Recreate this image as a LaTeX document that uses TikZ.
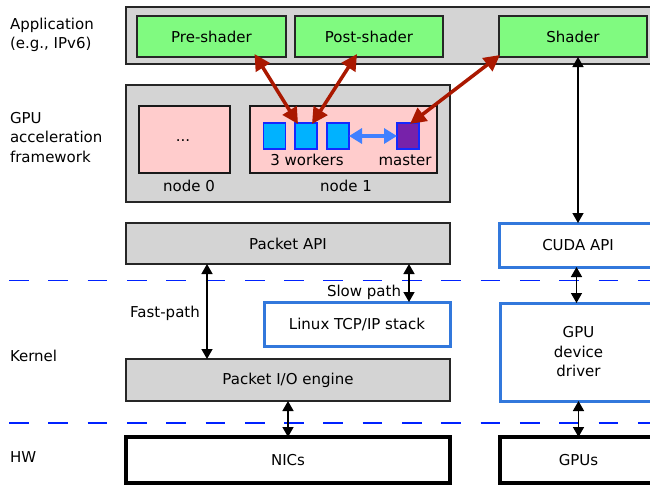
\documentclass[tikz,border=0pt]{standalone}
\usepackage{fontspec}
\setmainfont{DejaVu Sans}
\usetikzlibrary{arrows.meta,calc}
\definecolor{greyfill}{RGB}{212,212,212}
\definecolor{greenfill}{RGB}{128,250,128}
\definecolor{pinkfill}{RGB}{255,204,204}
\definecolor{workerfill}{RGB}{0,178,255}
\definecolor{masterfill}{RGB}{119,34,170}
\definecolor{sqborder}{RGB}{20,40,255}
\definecolor{apiblue}{RGB}{50,120,220}
\definecolor{redarrow}{RGB}{170,24,0}
\definecolor{bluearrow}{RGB}{64,128,255}
\definecolor{dashblue}{RGB}{0,34,255}
\begin{document}
\begin{tikzpicture}[x=1pt,y=-1pt,
  every node/.style={font=\fontsize{15}{19.5}\selectfont, inner sep=0pt, outer sep=0pt},
  greybox/.style={draw=black!85, line width=1.5pt, fill=greyfill, rectangle},
  greenbox/.style={draw=black!85, line width=1.5pt, fill=greenfill, rectangle},
  pinkbox/.style={draw=black!90, line width=1.5pt, fill=pinkfill, rectangle},
  bluebox/.style={draw=apiblue, line width=3pt, fill=white, rectangle},
  hwbox/.style={draw=black, line width=3.5pt, fill=white, rectangle},
  worker/.style={draw=sqborder, line width=1.5pt, fill=workerfill, minimum width=22pt, minimum height=26pt},
  masterbox/.style={draw=sqborder, line width=1.5pt, fill=masterfill, minimum width=22pt, minimum height=26pt},
  lbl/.style={align=left, anchor=west},
  blackarrow/.style={line width=1.5pt, {Triangle[length=10pt,width=11pt]}-{Triangle[length=10pt,width=11pt]}},
  redarr/.style={draw=redarrow, line width=3.5pt, {Triangle[length=16pt,width=16pt]}-{Triangle[length=16pt,width=16pt]}},
  bluearr/.style={draw=bluearrow, line width=3.5pt, {Triangle[length=13pt,width=15pt]}-{Triangle[length=13pt,width=15pt]}},
  sepline/.style={draw=dashblue, line width=1.8pt, dash pattern=on 19.7pt off 19.6pt}
]
\useasboundingbox (0,0) rectangle (650,485);
% separators
\draw[sepline] (9,280.5) -- (650,280.5);
\draw[sepline] (9,423) -- (650,423);

% left labels
\node[lbl] (lapp) at (10,35) {Application\\(e.g., IPv6)};
\node[lbl] (lgpu) at (10,137.5) {GPU\\acceleration\\framework};
\node[lbl] (lker) at (10,356) {Kernel};
\node[lbl] (lhw) at (10,457) {HW};

% application layer
\node[greybox, minimum width=544pt, minimum height=57pt] (app) at (398,35.5) {};
\node[greenbox, minimum width=149pt, minimum height=41pt] (pre) at (211.5,36.5) {Pre-shader};
\node[greenbox, minimum width=148pt, minimum height=41pt] (post) at (369,36.5) {Post-shader};
\node[greenbox, minimum width=148pt, minimum height=41pt] (shader) at (573,36.5) {Shader};

% GPU framework
\node[greybox, minimum width=324pt, minimum height=117pt] (gpu) at (288,143.5) {};
\node[pinkbox, minimum width=91pt, minimum height=67pt] (node0) at (184.5,139.5) {};
\node (dots) at (183,141) {...};
\node[pinkbox, minimum width=187pt, minimum height=67pt] (node1) at (343.5,139.5) {};
\node (n0lbl) at (189,186) {node 0};
\node (n1lbl) at (346,186) {node 1};
\node[worker] (w1) at (274.5,136) {};
\node[worker] (w2) at (306,136) {};
\node[worker] (w3) at (338,136) {};
\node[masterbox] (master) at (408,136) {};
\node (wlbl) at (307,160) {3 workers};
\node (mlbl) at (405,160) {master};

% APIs
\node[greybox, minimum width=324pt, minimum height=41pt] (papi) at (288,243.5) {Packet API};
\node[bluebox, minimum width=158pt, minimum height=44pt] (cuda) at (578,245) {CUDA API};

% kernel
\node[bluebox, minimum width=186pt, minimum height=44pt] (linux) at (357,324) {Linux TCP/IP stack};
\node[greybox, minimum width=324pt, minimum height=42pt] (pktio) at (288,380) {Packet I/O engine};
\node[bluebox, minimum width=157pt, minimum height=98pt, align=center] (driver) at (578.5,352) {GPU\\device\\driver};

% HW
\node[hwbox, minimum width=324pt, minimum height=46pt] (nics) at (288,460) {NICs};
\node[hwbox, minimum width=157pt, minimum height=46pt] (gpus) at (578.5,460) {GPUs};

% labels
\node (fast) at (165,313) {Fast-path};
\node (slow) at (364,292) {Slow path};

% black arrows
\draw[blackarrow] (cuda.north |- shader.south) -- (cuda.north);
\draw[blackarrow] ([xshift=-1.5pt]cuda.south) -- ([xshift=-2pt]driver.north);
\draw[blackarrow] (driver.south) -- (gpus.north);
\draw[blackarrow] ([xshift=-81pt]papi.south) -- ([xshift=-81pt]pktio.north);
\draw[blackarrow] ([xshift=121pt]papi.south) -- ([xshift=52pt]linux.north);
\draw[blackarrow] (pktio.south) -- (nics.north);

% red arrows
\draw[redarr] ([xshift=43pt,yshift=3pt]pre.south) -- ([xshift=-8pt,yshift=-1pt]w2.north);
\draw[redarr] ([xshift=-12pt,yshift=3pt]post.south) -- ([xshift=6pt,yshift=-1pt]w2.north);
\draw[redarr] ([xshift=1pt,yshift=2pt]shader.south west) -- ([xshift=2pt,yshift=-1pt]master.north);

% blue arrow
\draw[bluearr] (w3.east) -- (master.west);
\end{tikzpicture}
\end{document}
